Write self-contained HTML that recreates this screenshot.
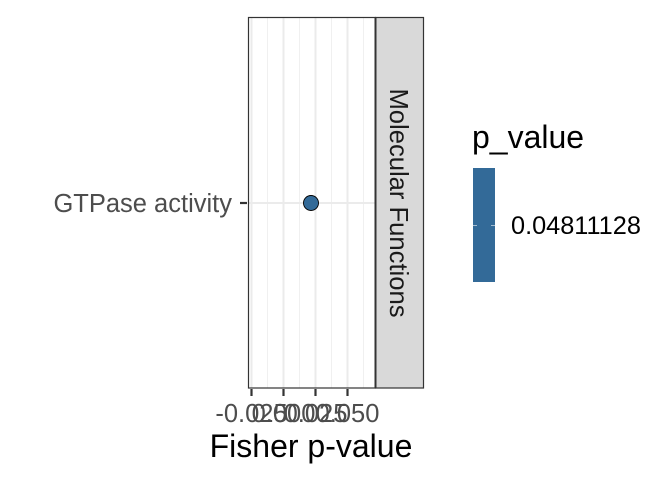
<!DOCTYPE html>
<html><head><meta charset="utf-8"><style>html,body{margin:0;padding:0;background:#fff}svg{display:block}</style></head>
<body>
<svg width="672" height="480" viewBox="0 0 672 480" xmlns="http://www.w3.org/2000/svg" font-family="Liberation Sans, sans-serif">
<rect x="0" y="0" width="672" height="480" fill="#fff"/>
<rect x="248.5" y="17.5" width="127" height="370.5" fill="#fff"/>
<g stroke="#f0f0f0" stroke-width="1">
<line x1="267.5" y1="17" x2="267.5" y2="388"/>
<line x1="299.5" y1="17" x2="299.5" y2="388"/>
<line x1="331.5" y1="17" x2="331.5" y2="388"/>
<line x1="363.5" y1="17" x2="363.5" y2="388"/>
</g>
<g stroke="#ebebeb" stroke-width="2">
<line x1="251.5" y1="17" x2="251.5" y2="388"/>
<line x1="283.5" y1="17" x2="283.5" y2="388"/>
<line x1="315.5" y1="17" x2="315.5" y2="388"/>
<line x1="347.5" y1="17" x2="347.5" y2="388"/>
<line x1="248" y1="203" x2="375" y2="203"/>
</g>
<rect x="248.5" y="17.5" width="127" height="370.5" fill="none" stroke="#333" stroke-width="1.2"/>
<rect x="375.5" y="17.5" width="48" height="370.5" fill="#d9d9d9" stroke="#333" stroke-width="1.2"/>
<line x1="375.5" y1="17" x2="375.5" y2="388" stroke="#333" stroke-width="2"/>
<text transform="translate(390,203) rotate(90)" text-anchor="middle" font-size="25.6" fill="#1a1a1a">Molecular Functions</text>
<circle cx="311" cy="203" r="7.5" fill="#336a98" stroke="#000" stroke-width="0.9"/>
<line x1="240" y1="203" x2="247" y2="203" stroke="#333" stroke-width="2.2"/>
<text x="232" y="212" text-anchor="end" font-size="25.5" fill="#4d4d4d">GTPase activity</text>
<g stroke="#333" stroke-width="2.2">
<line x1="251.5" y1="389" x2="251.5" y2="396"/>
<line x1="283.5" y1="389" x2="283.5" y2="396"/>
<line x1="315.5" y1="389" x2="315.5" y2="396"/>
<line x1="347.5" y1="389" x2="347.5" y2="396"/>
</g>
<g font-size="25.5" fill="#4d4d4d" text-anchor="middle">
<text x="251.5" y="422">-0.025</text>
<text x="283.5" y="422">0.000</text>
<text x="315.5" y="422">0.025</text>
<text x="347.5" y="422">0.050</text>
</g>
<text x="311" y="457" text-anchor="middle" font-size="32" fill="#000">Fisher p-value</text>
<text x="472" y="148" font-size="32" fill="#000">p_value</text>
<rect x="473" y="168" width="22" height="114" fill="#336a98"/>
<line x1="473" y1="225.5" x2="477" y2="225.5" stroke="#fff" stroke-width="0.8" opacity="0.7"/>
<line x1="491" y1="225.5" x2="495" y2="225.5" stroke="#fff" stroke-width="0.8" opacity="0.7"/>
<text x="511" y="234" font-size="25.3" fill="#000">0.04811128</text>
</svg>
</body></html>
